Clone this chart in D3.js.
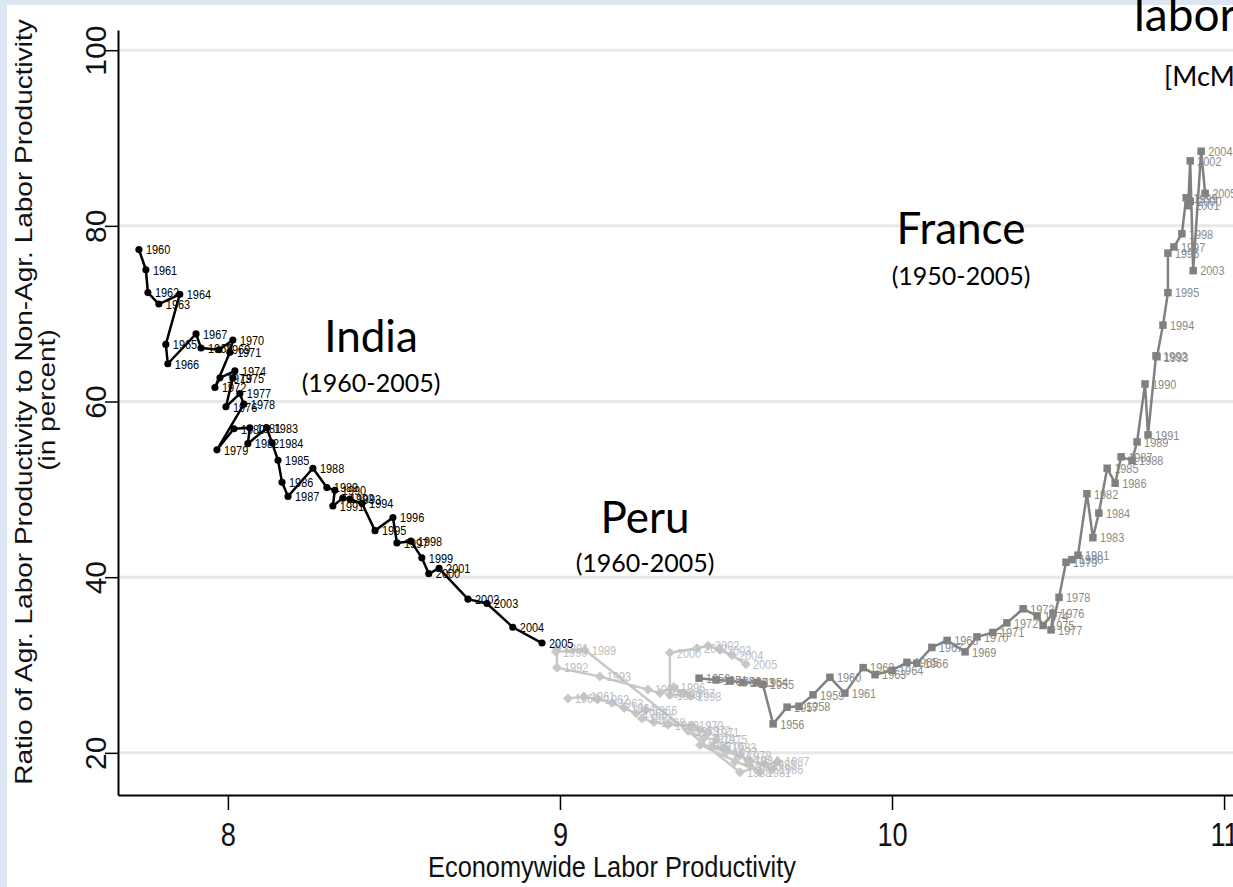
<!DOCTYPE html>
<html>
<head>
<meta charset="utf-8">
<script src="https://cdn.jsdelivr.net/npm/d3@7"></script>
<style>
  html, body { margin: 0; padding: 0; background: #dce6f2; }
  svg { display: block; }
</style>
</head>
<body>
<svg id="chart" width="1233" height="887"></svg>
<script>
// Economywide labor productivity (log) vs. ratio of agricultural to non-agricultural labor productivity (%)

const indiaYears = d3.range(1960, 2006);
const indiaProductivity = [
  7.732, 7.753, 7.759, 7.792, 7.855, 7.813, 7.819, 7.904, 7.919, 7.973,
  8.015, 8.006, 7.961, 7.976, 8.021, 8.015, 7.994, 8.036, 8.048, 7.967,
  8.018, 8.066, 8.060, 8.117, 8.133, 8.151, 8.163, 8.181, 8.256, 8.298,
  8.322, 8.316, 8.346, 8.367, 8.404, 8.443, 8.497, 8.509, 8.551, 8.584,
  8.605, 8.636, 8.723, 8.780, 8.858, 8.946
];
const indiaRatio = [
  77.3, 75.0, 72.4, 71.1, 72.2, 66.5, 64.3, 67.7, 66.1, 65.9,
  67.0, 65.6, 61.6, 62.7, 63.5, 62.7, 59.4, 60.9, 59.7, 54.5,
  56.9, 57.0, 55.2, 57.0, 55.3, 53.3, 50.8, 49.2, 52.4, 50.2,
  49.9, 48.1, 49.0, 48.9, 48.4, 45.3, 46.8, 43.9, 44.1, 42.2,
  40.4, 41.0, 37.5, 37.0, 34.3, 32.5
];

const peruYears = d3.range(1960, 2006);
const peruProductivity = [
  9.024, 9.072, 9.114, 9.157, 9.193, 9.229, 9.259, 9.247, 9.283, 9.325,
  9.398, 9.446, 9.422, 9.386, 9.434, 9.470, 9.458, 9.500, 9.542, 9.527,
  9.572, 9.602, 9.422, 9.497, 9.566, 9.617, 9.639, 9.657, 9.542, 9.075,
  8.988, 8.991, 8.991, 9.120, 9.265, 9.301, 9.343, 9.373, 9.392, 9.331,
  9.331, 9.413, 9.446, 9.482, 9.518, 9.560
];
const peruRatio = [
  26.2, 26.4, 26.1, 25.7, 25.1, 24.5, 24.9, 23.9, 23.5, 23.2,
  23.1, 22.3, 22.6, 22.5, 21.7, 21.5, 20.7, 20.1, 19.7, 19.0,
  18.5, 17.8, 20.9, 20.6, 19.2, 18.7, 18.1, 19.0, 17.8, 31.7,
  31.5, 31.9, 29.7, 28.7, 27.2, 26.8, 27.5, 26.8, 26.5, 26.6,
  31.4, 31.9, 32.2, 31.7, 31.1, 30.1
];

const franceYears = d3.range(1950, 2006);
const franceProductivity = [
  9.419, 9.470, 9.512, 9.551, 9.593, 9.611, 9.642, 9.684, 9.720, 9.762,
  9.813, 9.858, 9.913, 9.949, 10.000, 10.045, 10.075, 10.120, 10.166, 10.220,
  10.256, 10.304, 10.346, 10.395, 10.437, 10.455, 10.485, 10.479, 10.503, 10.524,
  10.542, 10.560, 10.587, 10.605, 10.623, 10.648, 10.672, 10.690, 10.723, 10.738,
  10.762, 10.771, 10.795, 10.798, 10.816, 10.831, 10.831, 10.849, 10.873, 10.886,
  10.898, 10.892, 10.898, 10.907, 10.931, 10.943
];
const franceRatio = [
  28.5, 28.3, 28.2, 28.0, 28.0, 27.8, 23.3, 25.2, 25.3, 26.6,
  28.6, 26.8, 29.7, 28.9, 29.4, 30.3, 30.2, 32.0, 32.8, 31.5,
  33.2, 33.7, 34.8, 36.4, 35.6, 34.5, 35.9, 34.0, 37.7, 41.7,
  42.0, 42.5, 49.5, 44.5, 47.3, 52.4, 50.7, 53.7, 53.3, 55.4,
  62.0, 56.2, 65.2, 65.1, 68.7, 72.4, 76.9, 77.6, 79.1, 83.2,
  82.8, 82.3, 87.4, 74.9, 88.5, 83.7
];

const xTicks = [8, 9, 10, 11];
const yTicks = [20, 40, 60, 80, 100];

const xTitle = "Economywide Labor Productivity";
const yTitle = "Ratio of Agr. Labor Productivity to Non-Agr. Labor Productivity";
const yTitle2 = "(in percent)";

const countryNames = ["India", "Peru", "France"];
const countryPeriods = ["(1960-2005)", "(1960-2005)", "(1950-2005)"];

// ---------------------------------------------------------------------------
const W = 1233, H = 887;
const svg = d3.select("#chart");
const statFont = "'Liberation Sans', Arial, sans-serif";
const noteFont = "Lato, 'Open Sans', sans-serif";
const NARROW = 0.875;   // horizontal squeeze of the graph lettering

// page background and white graph area
svg.append("rect").attr("x", 0).attr("y", 0).attr("width", W).attr("height", H).attr("fill", "#dce6f2");
svg.append("rect").attr("x", 7).attr("y", 5).attr("width", W - 7).attr("height", H - 5).attr("fill", "#ffffff");

const x = d3.scaleLinear().domain([7.669, 11.048]).range([118, 1240]);
const y = d3.scaleLinear().domain([15.2, 102.3]).range([795, 30]);

// horizontal grid
svg.append("g")
  .selectAll("line")
  .data(yTicks)
  .join("line")
  .attr("x1", x.range()[0]).attr("x2", W)
  .attr("y1", d => y(d)).attr("y2", d => y(d))
  .attr("stroke", "#e8e8e8").attr("stroke-width", 3);

// axes
const xAxis = svg.append("g")
  .attr("transform", `translate(0,${y.range()[0]})`)
  .call(d3.axisBottom(x).tickValues(xTicks).tickSize(15).tickSizeOuter(0).tickFormat(d3.format("d")));
const yAxis = svg.append("g")
  .attr("transform", `translate(${x.range()[0]},0)`)
  .call(d3.axisLeft(y).tickValues(yTicks).tickSize(13).tickSizeOuter(0).tickFormat(d3.format("d")));

[xAxis, yAxis].forEach(g => {
  g.select(".domain").attr("stroke", "#000").attr("stroke-width", 2);
  g.selectAll(".tick line").attr("stroke", "#000").attr("stroke-width", 1.5);
  g.selectAll(".tick text")
    .attr("font-family", statFont).attr("fill", "#111")
    .attr("x", null).attr("y", null).attr("dy", null);
});
xAxis.selectAll(".tick text")
  .attr("font-size", 34)
  .attr("text-anchor", "middle")
  .attr("transform", "translate(0,51) scale(0.8,1)");
yAxis.selectAll(".tick text")
  .attr("font-size", 30)
  .attr("text-anchor", "middle")
  .attr("transform", "translate(-12,0) rotate(-90) scale(1,1)");

// axis titles
svg.append("text")
  .attr("transform", `translate(612,877) scale(${NARROW},1)`)
  .attr("text-anchor", "middle")
  .attr("font-family", statFont).attr("font-size", 29).attr("fill", "#111")
  .text(xTitle);
svg.append("text")
  .attr("transform", `translate(32,402) rotate(-90) scale(1,${NARROW})`)
  .attr("text-anchor", "middle")
  .attr("font-family", statFont).attr("font-size", 28).attr("fill", "#111")
  .text(yTitle);
svg.append("text")
  .attr("transform", `translate(55,400) rotate(-90) scale(1,${NARROW})`)
  .attr("text-anchor", "middle")
  .attr("font-family", statFont).attr("font-size", 28).attr("fill", "#111")
  .text(yTitle2);

// one connected, labelled series per country
function drawSeries(years, xs, ys, opt) {
  const pts = years.map((yr, i) => ({ yr, px: x(xs[i]), py: y(ys[i]) }));
  const g = svg.append("g");
  g.append("path")
    .attr("d", d3.line().x(d => d.px).y(d => d.py)(pts))
    .attr("fill", "none").attr("stroke", opt.color).attr("stroke-width", 2.5)
    .attr("stroke-linejoin", "round");
  g.selectAll("path.mk")
    .data(pts)
    .join("path")
    .attr("class", "mk")
    .attr("transform", d => `translate(${d.px},${d.py})`)
    .attr("d", d3.symbol().type(opt.symbol).size(opt.size))
    .attr("fill", opt.color);
  g.selectAll("text")
    .data(pts)
    .join("text")
    .attr("transform", d => `translate(${d.px + 7},${d.py}) scale(${NARROW},1)`)
    .attr("dominant-baseline", "central")
    .attr("font-family", statFont).attr("font-size", 12.5)
    .attr("fill", opt.labelColor)
    .text(d => d.yr);
}

drawSeries(peruYears, peruProductivity, peruRatio,
  { color: "#c8c8c8", labelColor: "#bdbdbd", symbol: d3.symbolDiamond2, size: 64 });
drawSeries(franceYears, franceProductivity, franceRatio,
  { color: "#808080", labelColor: "#8a8a8a", symbol: d3.symbolSquare2, size: 72 });
drawSeries(indiaYears, indiaProductivity, indiaRatio,
  { color: "#000000", labelColor: "#000000", symbol: d3.symbolCircle, size: 40 });

// country annotations
const notes = [
  { name: countryNames[0], period: countryPeriods[0], cx: 371, ny: 352, py: 392 },
  { name: countryNames[1], period: countryPeriods[1], cx: 645, ny: 533, py: 572 },
  { name: countryNames[2], period: countryPeriods[2], cx: 961, ny: 244, py: 285 }
];
notes.forEach(n => {
  svg.append("text").attr("x", n.cx).attr("y", n.ny).attr("text-anchor", "middle")
    .attr("font-family", noteFont).attr("font-size", 44).attr("fill", "#000").text(n.name);
  svg.append("text").attr("x", n.cx).attr("y", n.py).attr("text-anchor", "middle")
    .attr("font-family", noteFont).attr("font-size", 25).attr("fill", "#000").text(n.period);
});

// heading running off the right edge
svg.append("text").attr("x", 1134).attr("y", 31)
  .attr("font-family", noteFont).attr("font-size", 46).attr("fill", "#000").text("labor productivity");
svg.append("text").attr("x", 1164).attr("y", 86)
  .attr("font-family", noteFont).attr("font-size", 27).attr("fill", "#000").text("[McMillan and Rodrik]");
</script>
</body>
</html>
